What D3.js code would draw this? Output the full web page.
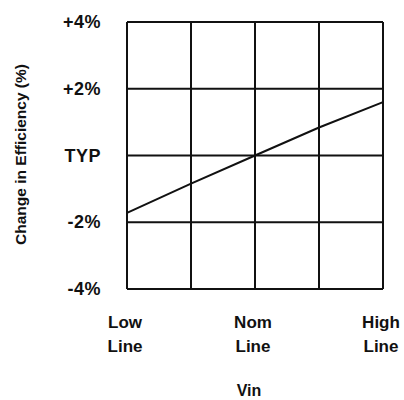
<!DOCTYPE html>
<html>
<head>
<meta charset="utf-8">
<script src="https://cdn.jsdelivr.net/npm/d3@7"></script>
<style>
  html, body { margin: 0; padding: 0; background: #fff; }
  svg text { font-family: "Liberation Sans", Arial, Helvetica, sans-serif; font-weight: bold; fill: #111; }
</style>
</head>
<body>
<div id="chart"></div>
<script>
// Change in efficiency vs input line voltage
// x steps: 0 = Low Line, 2 = Nom Line, 4 = High Line
const xSteps = [0, 1, 2, 3, 4];
const efficiency = [-1.72, -0.84, 0, 0.84, 1.6];

const yTicks = [4, 2, 0, -2, -4];
const yTickLabels = ['+4%', '+2%', 'TYP', '-2%', '-4%'];
const xCategories = [0, 2, 4];
const xCategoryLabels = [['Low', 'Line'], ['Nom', 'Line'], ['High', 'Line']];

const CONFIG = {
  width: 404,
  height: 400,
  margin: { top: 22, right: 21, bottom: 111, left: 127 }
};

const innerW = CONFIG.width - CONFIG.margin.left - CONFIG.margin.right;
const innerH = CONFIG.height - CONFIG.margin.top - CONFIG.margin.bottom;

const svg = d3.select('#chart')
  .append('svg')
  .attr('width', CONFIG.width)
  .attr('height', CONFIG.height);

const g = svg.append('g')
  .attr('transform', `translate(${CONFIG.margin.left},${CONFIG.margin.top})`);

const x = d3.scaleLinear().domain([0, 4]).range([0, innerW]);
const y = d3.scaleLinear().domain([-4, 4]).range([innerH, 0]);

// grid lines
g.append('g')
  .selectAll('line')
  .data(d3.range(0, 5))
  .join('line')
  .attr('x1', d => x(d))
  .attr('x2', d => x(d))
  .attr('y1', 0)
  .attr('y2', innerH)
  .attr('stroke', '#111')
  .attr('stroke-width', 2);

g.append('g')
  .selectAll('line')
  .data(yTicks)
  .join('line')
  .attr('x1', 0)
  .attr('x2', innerW)
  .attr('y1', d => y(d))
  .attr('y2', d => y(d))
  .attr('stroke', '#111')
  .attr('stroke-width', 2);

// y tick labels
g.append('g')
  .selectAll('text')
  .data(yTicks)
  .join('text')
  .attr('x', -26)
  .attr('y', d => y(d))
  .attr('text-anchor', 'end')
  .attr('dominant-baseline', 'central')
  .style('font-size', '18px')
  .style('letter-spacing', '0.5px')
  .text((d, i) => yTickLabels[i]);

// x category labels (two lines each)
const xl = g.append('g')
  .selectAll('text')
  .data(xCategories)
  .join('text')
  .attr('text-anchor', 'middle')
  .style('font-size', '17px');

xl.selectAll('tspan')
  .data((d, i) => xCategoryLabels[i].map(t => ({ t, x: x(d) })))
  .join('tspan')
  .attr('x', d => d.x - 2)
  .attr('y', (d, j) => innerH + 39 + j * 24)
  .text(d => d.t);

// curve
const line = d3.line()
  .x((d, i) => x(xSteps[i]))
  .y(d => y(d));

g.append('path')
  .datum(efficiency)
  .attr('d', line)
  .attr('fill', 'none')
  .attr('stroke', '#111')
  .attr('stroke-width', 2);

// axis titles
svg.append('text')
  .attr('transform', `translate(26, ${CONFIG.margin.top + innerH / 2 - 1}) rotate(-90)`)
  .attr('text-anchor', 'middle')
  .style('font-size', '15.5px')
  .text('Change in Efficiency (%)');

svg.append('text')
  .attr('x', 249)
  .attr('y', 396)
  .attr('text-anchor', 'middle')
  .style('font-size', '16px')
  .text('Vin');
</script>
</body>
</html>
